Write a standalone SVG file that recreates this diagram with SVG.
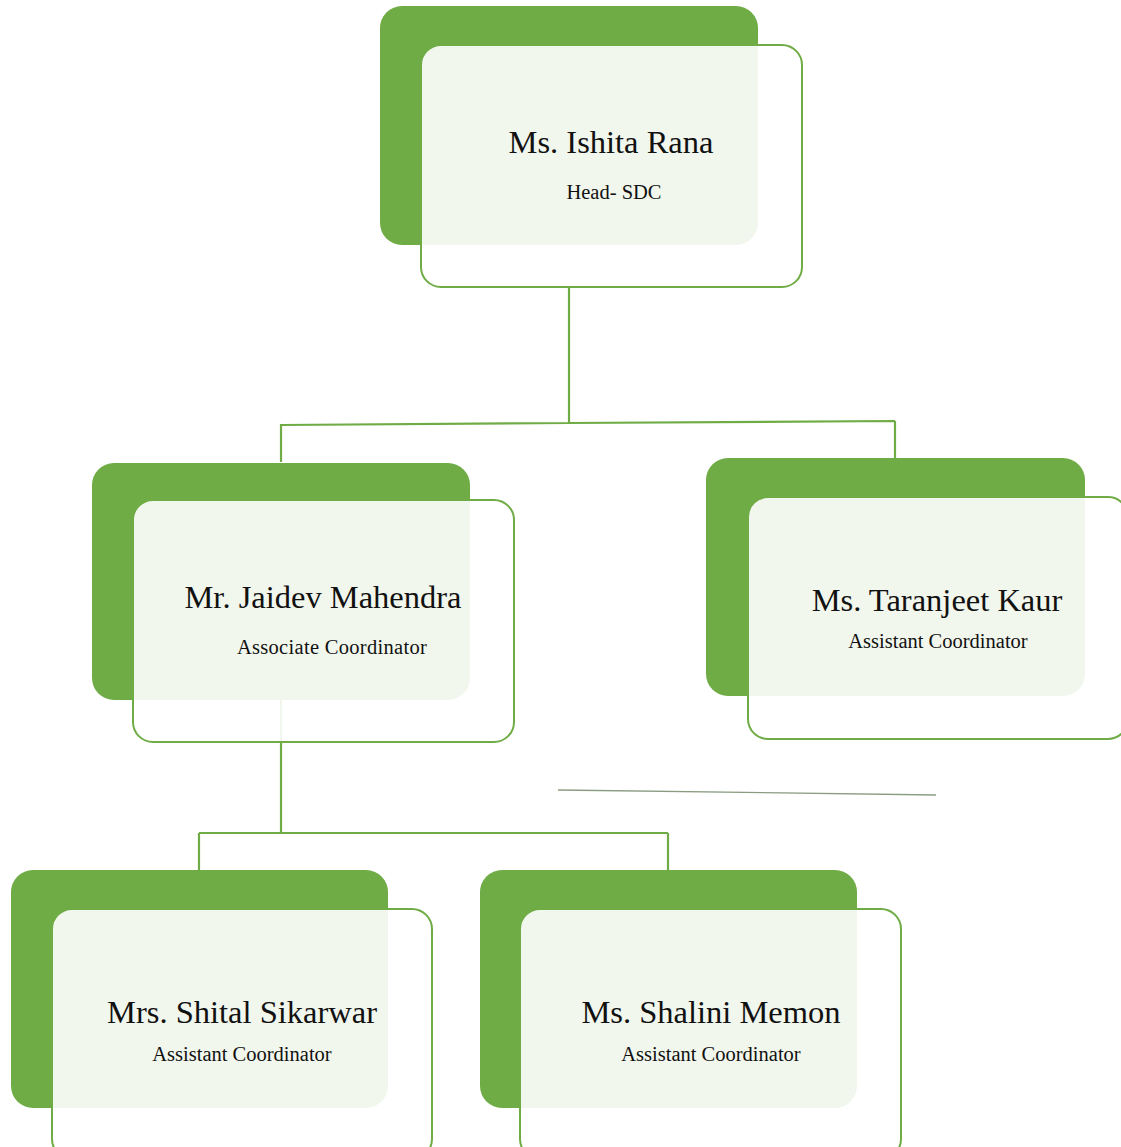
<svg xmlns="http://www.w3.org/2000/svg" width="1121" height="1147" viewBox="0 0 1121 1147">
<style>
.back{fill:#6fac46}
.card{fill:#ffffff;fill-opacity:0.9;stroke:#6fac46;stroke-width:2}
.conn{fill:none;stroke:#6fac46;stroke-width:2.2}
.name{font-family:"Liberation Serif","Times New Roman",serif;font-size:32.5px;fill:#111;text-anchor:middle}
.role{font-family:"Liberation Serif","Times New Roman",serif;font-size:20.5px;fill:#111;text-anchor:middle}
</style>
<rect width="1121" height="1147" fill="#ffffff"/>
<g id="connectors">
<path class="conn" d="M569 287 V423 M281 425 L569 423 L895 421 M281 424 V462 M895 421 V459"/>
<path class="conn" d="M281 700 V833 M199 833 H668 M199 833 V871 M668 833 V871"/>
<line x1="558" y1="790" x2="936" y2="795" stroke="#8a9c80" stroke-width="1.3"/>
</g>
<g id="node-ishita">
<rect class="back" x="380" y="6" width="378" height="239" rx="22"/>
<rect class="card" x="421" y="45" width="381" height="242" rx="20"/>
<text class="name" x="611" y="153">Ms. Ishita Rana</text>
<text class="role" x="614" y="199">Head- SDC</text>
</g>
<g id="node-jaidev">
<rect class="back" x="92" y="463" width="378" height="237" rx="22"/>
<rect class="card" x="133" y="500" width="381" height="242" rx="20"/>
<text class="name" x="323" y="608">Mr. Jaidev Mahendra</text>
<text class="role" x="332" y="654" letter-spacing="0.3">Associate Coordinator</text>
</g>
<g id="node-taranjeet">
<rect class="back" x="706" y="458" width="379" height="238" rx="22"/>
<rect class="card" x="748" y="497" width="380" height="242" rx="20"/>
<text class="name" x="937" y="611">Ms. Taranjeet Kaur</text>
<text class="role" x="938" y="648">Assistant Coordinator</text>
</g>
<g id="node-shital">
<rect class="back" x="11" y="870" width="377" height="238" rx="22"/>
<rect class="card" x="52" y="909" width="380" height="250" rx="20"/>
<text class="name" x="242" y="1023">Mrs. Shital Sikarwar</text>
<text class="role" x="242" y="1061">Assistant Coordinator</text>
</g>
<g id="node-shalini">
<rect class="back" x="480" y="870" width="377" height="238" rx="22"/>
<rect class="card" x="520" y="909" width="381" height="250" rx="20"/>
<text class="name" x="711" y="1023">Ms. Shalini Memon</text>
<text class="role" x="711" y="1061">Assistant Coordinator</text>
</g>
</svg>
